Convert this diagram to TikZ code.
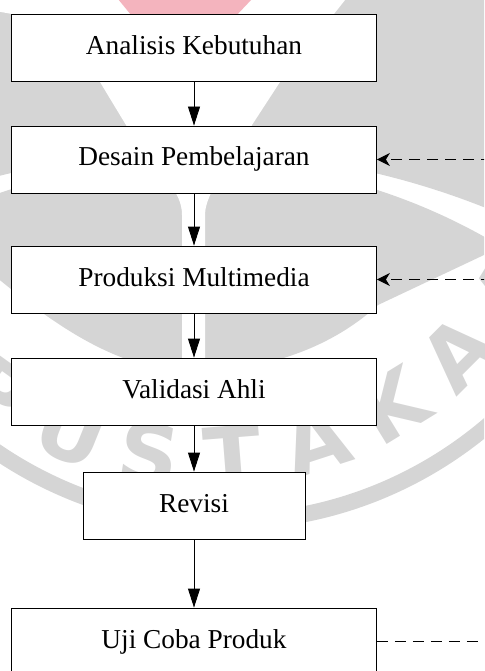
\documentclass[tikz,border=0pt]{standalone}
\usepackage{fontspec}
\setmainfont{Liberation Serif}
\newfontfamily\wmfont{DejaVu Sans}
\usetikzlibrary{arrows.meta}
\definecolor{wmgrey}{RGB}{213,213,213}
\definecolor{wmpink}{RGB}{244,180,190}

\begin{document}
\begin{tikzpicture}[x=1pt,y=1pt,
  stage/.style={draw=black, line width=0.8pt, fill=white,
    minimum height=67pt, minimum width=365pt, inner sep=0pt,
    font=\fontsize{27.3}{32}\selectfont, text height=19pt, text depth=6pt},
  flow/.style={-{Triangle[length=19pt,width=12pt]}, line width=0.8pt},
  feedback/.style={dash pattern=on 11pt off 7pt, line width=1.2pt},
  backhead/.style={-{Stealth[length=13pt,width=13pt,inset=4pt]}},
  wmletter/.style={inner sep=0pt, text=wmgrey,
    font=\wmfont\bfseries\fontsize{84}{84}\selectfont}]
\useasboundingbox (0,0) rectangle (484,-671);

% library emblem in the background
\begin{scope}
  \clip (0,0) rectangle (484,-671);
  % upper dome above the light band
  \fill[wmgrey, even odd rule] (-10,10) rectangle (494,-700) (193,-943) circle (791);
  % lower dome below the light band
  \begin{scope}
    \clip (193,-758) circle (597);
    \fill[wmgrey] (-10,-150) -- (-10,-272)
      .. controls (60,-330) and (120,-370) .. (193,-372)
      .. controls (280,-370) and (340,-340) .. (378,-305)
      -- (484,-255) -- (494,-150) -- cycle;
  \end{scope}
  % torch cut out of the dome
  \fill[white] (-10,10) -- (-10,-10) -- (12,-14) -- (100,-82)
    .. controls (112,-102) and (120,-115) .. (135,-140)
    .. controls (160,-175) and (182,-190) .. (182,-215)
    -- (182,-385) -- (205,-385) -- (205,-215)
    .. controls (205,-190) and (235,-160) .. (252,-125)
    -- (280,-82) -- (353,10) -- cycle;
  \fill[wmpink] (118,1) -- (252,1) -- (180,-75) -- cycle;
  % outer ring
  \fill[wmgrey, even odd rule] (225,-116) circle (414) (225,-116) circle (398);
  % lettering along the ring
  \foreach \wl/\wa in {P/166, E/152.5, R/139, P/125.5, U/112, S/99,
                        T/85.5, A/72, K/58.5, A/45, A/31.5, N/18}
    \node[wmletter, rotate=90-\wa] at ([shift={(-\wa:358)}]205,-100) {\wl};
\end{scope}

% process steps
\node[stage] (analisis) at (194,-48)    {Analisis Kebutuhan};
\node[stage] (desain)   at (194,-159.5) {Desain Pembelajaran};
\node[stage] (produksi) at (194,-279.5) {Produksi Multimedia};
\node[stage] (validasi) at (194,-391.5) {Validasi Ahli};
\node[stage, minimum width=222pt] (revisi) at (194,-505.5) {Revisi};
\node[stage] (uji)      at (194,-641.5) {Uji Coba Produk};

\draw[flow] (analisis) -- (desain);
\draw[flow] (desain) -- (produksi);
\draw[flow] (produksi) -- (validasi);
\draw[flow] (validasi) -- (revisi);
\draw[flow] (revisi) -- (uji);

% feedback lines entering from the right
\begin{scope}
  \clip (0,0) rectangle (484,-671);
  \coordinate (fbdesain) at (492,-159.5);
  \coordinate (fbproduksi) at (492,-279.5);
  \coordinate (fbuji) at (492,-641.5);
  \draw[feedback, backhead] (fbdesain) -- (desain.east);
  \draw[feedback, backhead] (fbproduksi) -- (produksi.east);
  \draw[feedback] (uji.east) -- (fbuji);
\end{scope}
\end{tikzpicture}
\end{document}
